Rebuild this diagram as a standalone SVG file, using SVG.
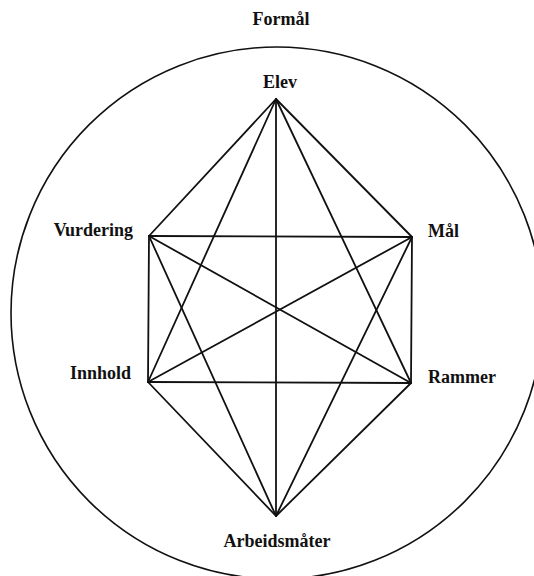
<svg xmlns="http://www.w3.org/2000/svg" width="534" height="576" viewBox="0 0 534 576">
<style>
text{font-family:"Liberation Serif","Times New Roman",serif;font-size:18px;font-weight:bold;fill:#111}
.c line{stroke:#111;stroke-width:1.8;stroke-linecap:round}
.ring{fill:none;stroke:#111;stroke-width:1.6}
</style>
<rect width="534" height="576" fill="#fff"/>
<g id="formal">
<circle class="ring" cx="277" cy="313" r="266"/>
<text x="281" y="25" text-anchor="middle">Formål</text>
</g>
<g class="c" id="connectors">
<line x1="276" y1="99" x2="412" y2="237"/>
<line x1="412" y1="237" x2="411" y2="383"/>
<line x1="411" y1="383" x2="276" y2="516"/>
<line x1="276" y1="516" x2="148" y2="382"/>
<line x1="148" y1="382" x2="149" y2="236"/>
<line x1="149" y1="236" x2="276" y2="99"/>
<line x1="276" y1="99" x2="276" y2="516"/>
<line x1="149" y1="236" x2="412" y2="237"/>
<line x1="148" y1="382" x2="411" y2="383"/>
<line x1="149" y1="236" x2="411" y2="383"/>
<line x1="148" y1="382" x2="412" y2="237"/>
<line x1="276" y1="99" x2="148" y2="382"/>
<line x1="276" y1="99" x2="411" y2="383"/>
<line x1="276" y1="516" x2="149" y2="236"/>
<line x1="276" y1="516" x2="412" y2="237"/>
</g>
<g id="elev"><text x="280" y="88" text-anchor="middle">Elev</text></g>
<g id="maal"><text x="428" y="237">Mål</text></g>
<g id="rammer"><text x="428" y="383">Rammer</text></g>
<g id="arbeidsmater"><text x="277" y="547" text-anchor="middle">Arbeidsmåter</text></g>
<g id="innhold"><text x="131" y="379" text-anchor="end">Innhold</text></g>
<g id="vurdering"><text x="133" y="236" text-anchor="end">Vurdering</text></g>
</svg>
